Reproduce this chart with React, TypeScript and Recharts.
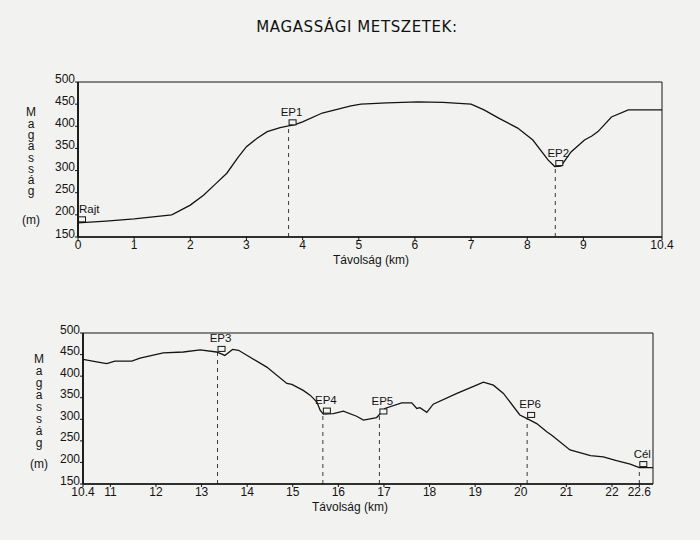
import React from 'react';
import { LineChart, Line, XAxis, YAxis, ReferenceLine, ReferenceDot, ReferenceArea } from 'recharts';

// ---------- data ----------
const topKm = [0, 0.5, 1, 1.67, 2.0, 2.24, 2.45, 2.65, 2.85, 3.0, 3.19, 3.37, 3.6, 3.75, 3.85, 4.0, 4.35, 4.86, 5.04, 5.5, 6.05, 6.5, 7.0, 7.23, 7.5, 7.83, 8.1, 8.37, 8.49, 8.6, 8.78, 9.02, 9.15, 9.26, 9.5, 9.8, 10.4];
const topElev = [182, 186, 191, 200, 222, 245, 270, 294, 330, 354, 373, 388, 397, 401, 403, 410, 430, 446, 450, 453, 455, 454, 450, 437, 418, 396, 369, 324, 309, 310, 342, 369, 378, 388, 421, 437, 437];
const topTicks = [0, 1, 2, 3, 4, 5, 6, 7, 8, 9, 10.4];
const topMarkerNames = ['Rajt', 'EP1', 'EP2'];
const topMarkerKm = [0, 3.75, 8.5];
const topMarkerElev = [182, 401, 309];

const botKm = [10.4, 10.7, 10.92, 11.1, 11.47, 11.65, 12.16, 12.6, 12.97, 13.33, 13.51, 13.68, 13.81, 14.43, 14.87, 14.98, 15.23, 15.38, 15.53, 15.6, 15.67, 15.89, 16.11, 16.4, 16.55, 16.84, 17.02, 17.39, 17.61, 17.72, 17.79, 17.94, 18.08, 18.6, 19.03, 19.18, 19.4, 19.62, 19.98, 20.13, 20.35, 20.57, 20.68, 21.08, 21.53, 21.81, 22.1, 22.4, 22.6, 22.9];
const botElev = [439, 433, 429, 435, 435, 442, 454, 456, 461, 456, 448, 462, 460, 421, 383, 381, 367, 356, 340, 321, 312, 313, 319, 307, 298, 304, 325, 338, 338, 325, 327, 316, 335, 360, 379, 386, 379, 360, 310, 302, 290, 271, 263, 229, 216, 213, 204, 196, 188, 188];
const botTicks = [10.4, 11, 12, 13, 14, 15, 16, 17, 18, 19, 20, 21, 22, 22.6];
const botMarkerNames = ['EP3', 'EP4', 'EP5', 'EP6', 'Cél'];
const botMarkerKm = [13.35, 15.66, 16.9, 20.14, 22.6];
const botMarkerElev = [455, 312, 310, 302, 188];

const elevTicks = [150, 200, 250, 300, 350, 400, 450, 500];
const titleText = 'MAGASSÁGI METSZETEK:';
const yTitle = 'Magasság';
const yUnit = '(m)';
const xTitle = 'Távolság (km)';

// ---------- styling ----------
const FONT = '"Liberation Sans", Arial, sans-serif';
const INK = '#141414';

type Box = { left: number; right: number; top: number; bottom: number };

type ProfileProps = {
  offsetY: number;
  height: number;
  box: Box;
  kms: number[];
  elevs: number[];
  domain: [number, number];
  ticks: number[];
  names: string[];
  mKm: number[];
  mElev: number[];
};

const YTick = (props: any) => {
  const { x, y, payload } = props;
  return (
    <text x={x} y={y + 0.5} textAnchor="end" fontSize={12} fontFamily={FONT} fill={INK}>
      {payload.value}
    </text>
  );
};

const XTick = (props: any) => {
  const { x, y, payload } = props;
  return (
    <text x={x} y={y + 9} textAnchor="middle" fontSize={12} fontFamily={FONT} fill={INK}>
      {payload.value}
    </text>
  );
};

function Profile({ offsetY, height, box, kms, elevs, domain, ticks, names, mKm, mElev }: ProfileProps) {
  const rows = kms.map((k, i) => ({ km: k, elev: elevs[i] }));
  const yAxisW = 30;
  const xAxisH = 25;
  const margin = {
    top: box.top - offsetY,
    left: box.left - yAxisW,
    right: 700 - box.right,
    bottom: offsetY + height - box.bottom - xAxisH,
  };
  return (
    <div style={{ position: 'absolute', left: 0, top: offsetY, width: 700, height }}>
      <LineChart width={700} height={height} data={rows} margin={margin}>
        <ReferenceArea
          x1={domain[0]}
          x2={domain[1]}
          y1={150}
          y2={500}
          fill="none"
          stroke={INK}
          strokeWidth={1}
          fillOpacity={0}
          ifOverflow="visible"
        />
        <XAxis
          dataKey="km"
          type="number"
          domain={domain}
          ticks={ticks}
          interval={0}
          allowDataOverflow
          height={xAxisH}
          tickSize={3}
          tickMargin={0}
          tick={<XTick />}
          axisLine={{ stroke: INK, strokeWidth: 1.6 }}
          tickLine={{ stroke: INK }}
        />
        <YAxis
          type="number"
          domain={[150, 500]}
          ticks={elevTicks}
          interval={0}
          width={yAxisW}
          tickSize={3}
          tickMargin={0}
          tick={<YTick />}
          axisLine={{ stroke: INK, strokeWidth: 1.8 }}
          tickLine={{ stroke: INK }}
        />
        {mKm.map((k, i) => (
          <ReferenceLine
            key={'l' + i}
            segment={[
              { x: k, y: 150 },
              { x: k, y: mElev[i] },
            ]}
            stroke="#3a3a3a"
            strokeWidth={1}
            strokeDasharray="4 4"
            ifOverflow="visible"
          />
        ))}
        <Line
          type="linear"
          dataKey="elev"
          stroke={INK}
          strokeWidth={1.3}
          dot={false}
          activeDot={false}
          isAnimationActive={false}
        />
        {mKm.map((k, i) => (
          <ReferenceDot
            key={'d' + i}
            x={k}
            y={mElev[i]}
            r={0}
            ifOverflow="visible"
            shape={(p: any) => {
              const cx = p.cx;
              const cy = p.cy;
              const atStart = k === domain[0];
              return (
                <g>
                  <rect x={cx + 0.5} y={cy - 6} width={7} height={5} fill="#f4f4f2" stroke={INK} strokeWidth={1} />
                  <text
                    x={atStart ? cx + 1 : cx + 3}
                    y={cy - 10}
                    textAnchor={atStart ? 'start' : 'middle'}
                    fontSize={11.5}
                    fontFamily={FONT}
                    fill={INK}
                  >
                    {names[i]}
                  </text>
                </g>
              );
            }}
          />
        ))}
      </LineChart>
    </div>
  );
}

function YLetters({ x, yStart, step, unitY }: { x: number; yStart: number; step: number; unitY: number }) {
  const stacked = yTitle.split('').join('\n');
  return (
    <>
      <div
        style={{
          position: 'absolute',
          left: x - 10,
          width: 20,
          top: yStart - step / 2,
          lineHeight: step + 'px',
          whiteSpace: 'pre-line',
          textAlign: 'center',
          fontFamily: FONT,
          fontSize: 12,
          color: INK,
        }}
      >
        {stacked}
      </div>
      <div
        style={{
          position: 'absolute',
          left: x - 20,
          width: 40,
          top: unitY - 8,
          height: 16,
          lineHeight: '16px',
          textAlign: 'center',
          fontFamily: FONT,
          fontSize: 12,
          color: INK,
        }}
      >
        {yUnit}
      </div>
    </>
  );
}

function XTitle({ cx, cy }: { cx: number; cy: number }) {
  return (
    <div
      style={{
        position: 'absolute',
        left: cx - 80,
        width: 160,
        top: cy - 8,
        height: 16,
        lineHeight: '16px',
        textAlign: 'center',
        fontFamily: FONT,
        fontSize: 12,
        color: INK,
      }}
    >
      {xTitle}
    </div>
  );
}

export default function App() {
  return (
    <div
      style={{
        position: 'absolute',
        left: 0,
        top: 0,
        width: 700,
        height: 540,
        background: '#f2f2f0',
        overflow: 'hidden',
      }}
    >
      <div
        style={{
          position: 'absolute',
          left: 0,
          width: 714,
          top: 16,
          height: 22,
          lineHeight: '22px',
          textAlign: 'center',
          fontFamily: '"Comic Sans MS", "DejaVu Sans", sans-serif',
          fontSize: 15,
          letterSpacing: 0.6,
          color: '#111',
        }}
      >
        {titleText}
      </div>

      <Profile
        offsetY={0}
        height={270}
        box={{ left: 78, right: 662, top: 82, bottom: 237 }}
        kms={topKm}
        elevs={topElev}
        domain={[0, 10.4]}
        ticks={topTicks}
        names={topMarkerNames}
        mKm={topMarkerKm}
        mElev={topMarkerElev}
      />
      <YLetters x={31} yStart={113} step={11.3} unitY={220} />
      <XTitle cx={371} cy={260} />

      <Profile
        offsetY={270}
        height={270}
        box={{ left: 83, right: 653, top: 333, bottom: 484 }}
        kms={botKm}
        elevs={botElev}
        domain={[10.4, 22.9]}
        ticks={botTicks}
        names={botMarkerNames}
        mKm={botMarkerKm}
        mElev={botMarkerElev}
      />
      <YLetters x={39} yStart={359} step={12} unitY={464} />
      <XTitle cx={350} cy={507} />
    </div>
  );
}
